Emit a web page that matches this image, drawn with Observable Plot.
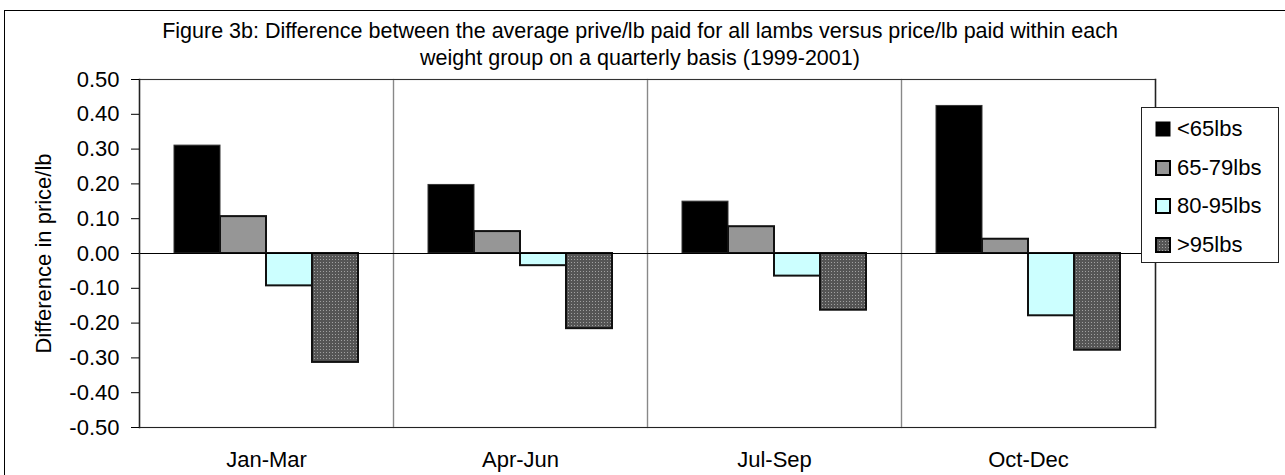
<!DOCTYPE html>
<html>
<head>
<meta charset="utf-8">
<script src="https://cdn.jsdelivr.net/npm/d3@7"></script>
<script src="https://cdn.jsdelivr.net/npm/@observablehq/plot@0.6"></script>
<style>
  html, body { margin: 0; padding: 0; background: #fff; }
  #wrap { position: relative; width: 1285px; height: 475px; overflow: hidden; font-family: "Liberation Sans", Arial, sans-serif; }
  #border { position: absolute; left: 4px; top: 10px; width: 1400px; height: 600px; border-left: 1px solid #000; border-top: 1px solid #000; box-sizing: border-box; }
  #title { position: relative; height: 60px; box-sizing: border-box; padding-top: 18px; text-align: center; font-size: 21.5px; line-height: 27px; color: #000; padding-left: 0; width: 1280px; }
  #chart svg { display: block; }
  #legend { position: absolute; left: 1141px; top: 107px; width: 138px; height: 156px; border: 1px solid #222; box-sizing: border-box; background: #fff; }
  .item { position: absolute; left: 13px; height: 24px; display: flex; align-items: center; font-size: 22px; color: #000; }
  .item svg { margin-right: 6px; display: block; }
</style>
</head>
<body>
<div id="wrap">
  <div id="border"></div>
  <div id="title">Figure 3b: Difference between the average prive/lb paid for all lambs versus price/lb paid within each<br>weight group on a quarterly basis (1999-2001)</div>
  <div id="chart"></div>
  <div id="legend"></div>
</div>
<script>
// ---- data ----
const quarters = ["Jan-Mar", "Apr-Jun", "Jul-Sep", "Oct-Dec"];
const groups = ["<65lbs", "65-79lbs", "80-95lbs", ">95lbs"];
const under65 = [0.31, 0.197, 0.149, 0.424];
const w65to79 = [0.106, 0.063, 0.077, 0.041];
const w80to95 = [-0.093, -0.035, -0.065, -0.179];
const over95 = [-0.313, -0.216, -0.163, -0.278];
const yTicks = [-0.5, -0.4, -0.3, -0.2, -0.1, 0, 0.1, 0.2, 0.3, 0.4, 0.5];
const groupFills = ["#000000", "#969696", "#CCFFFF", "url(#dots)"];
const groupStrokes = ["#333333", "#111111", "#111111", "#111111"];
const groupStrokeWidths = [1, 2, 2, 2];

const seriesValues = [under65, w65to79, w80to95, over95];
const data = [];
quarters.forEach((q, i) => {
  groups.forEach((g, j) => {
    data.push({quarter: q, group: g, value: seriesValues[j][i], sw: groupStrokeWidths[j], st: groupStrokes[j]});
  });
});

const FONT = "'Liberation Sans', Arial, sans-serif";

const chart = Plot.plot({
  width: 1285,
  height: 415,
  marginLeft: 138,
  marginRight: 129,
  marginTop: 19,
  marginBottom: 48,
  style: {fontFamily: FONT, fontSize: "22px", color: "#000", background: "transparent"},
  fx: {domain: quarters, padding: 0, label: null},
  x: {domain: groups, paddingInner: 0, paddingOuter: 0.75, axis: null},
  y: {domain: [-0.5, 0.5]},
  color: {type: "ordinal", domain: groups, range: groupFills},
  marks: [
    Plot.frame({stroke: "#888888", strokeWidth: 1.2}),
    Plot.frame({anchor: "top", stroke: "#333", strokeWidth: 1.2}),
    Plot.frame({anchor: "bottom", stroke: "#222", strokeWidth: 1.2}),
    Plot.frame({anchor: "right", stroke: "#222", strokeWidth: 1.5, facetAnchor: "right"}),
    Plot.barY(data, {
      fx: "quarter", x: "group", y: "value",
      fill: "group",
      stroke: d => d.st,
      strokeWidth: d => d.sw
    }),
    Plot.ruleY([0], {stroke: "#000", strokeWidth: 1.2}),
    Plot.frame({anchor: "left", stroke: "#222", strokeWidth: 1.5, facetAnchor: "left"}),
    Plot.axisY({
      ticks: yTicks,
      tickFormat: d => d.toFixed(2),
      tickSize: 8,
      tickPadding: 12,
      fontSize: 22,
      label: "Difference in price/lb",
      labelAnchor: "center",
      labelArrow: "none",
      labelOffset: 104
    }),
    Plot.axisFx({
      anchor: "bottom",
      tickSize: 0,
      tickPadding: 24,
      fontSize: 22,
      label: null
    })
  ]
});

// dotted pattern for the >95lbs series
const defs = d3.select(chart).insert("defs", ":first-child");
const pat = defs.append("pattern")
  .attr("id", "dots").attr("patternUnits", "userSpaceOnUse")
  .attr("width", 3).attr("height", 3);
pat.append("rect").attr("width", 3).attr("height", 3).attr("fill", "#555555");
pat.append("rect").attr("x", 1).attr("y", 1).attr("width", 1).attr("height", 1).attr("fill", "#a0a0a0");

document.getElementById("chart").appendChild(chart);

// legend
const legend = d3.select("#legend");
groups.forEach((g, j) => {
  const item = legend.append("div").attr("class", "item").style("top", (9 + j * 38.7) + "px");
  const sw = item.append("svg").attr("width", 16).attr("height", 16);
  sw.append("rect")
    .attr("x", 1).attr("y", 1).attr("width", 14).attr("height", 14)
    .attr("fill", groupFills[j])
    .attr("stroke", "#000").attr("stroke-width", j === 0 ? 1 : 2);
  item.append("span").text(g);
});
</script>
</body>
</html>
